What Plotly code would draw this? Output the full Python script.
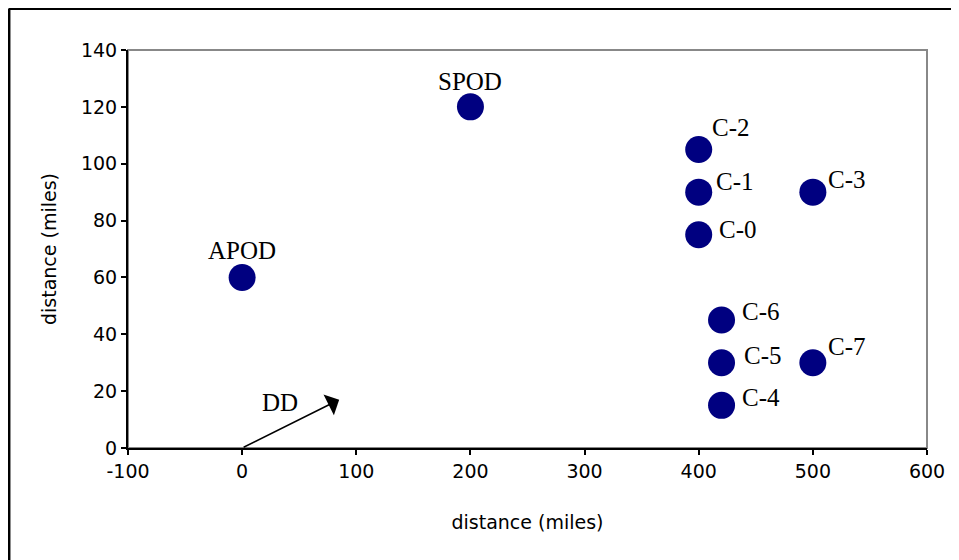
import plotly.graph_objects as go

# Posições (milhas)
nomes = ['APOD', 'SPOD', 'C-0', 'C-1', 'C-2', 'C-3', 'C-4', 'C-5', 'C-6', 'C-7']
x_milhas = [0, 200, 400, 400, 400, 500, 420, 420, 420, 500]
y_milhas = [60, 120, 75, 90, 105, 90, 15, 30, 45, 30]

# seta DD (origem -> ponta)
dd_origem = (0, 0)
dd_ponta = (85, 17)
dd_rotulo = (33, 16)

x_ticks = [-100, 0, 100, 200, 300, 400, 500, 600]
x_rotulos = ['-100', '0', '100', '200', '300', '400', '500', '600']
y_ticks = [0, 20, 40, 60, 80, 100, 120, 140]

# deslocamento dos rótulos (px): (xshift, yshift, xanchor)
desloc = {
    'APOD': (0, 27, 'center'), 'SPOD': (0, 25, 'center'),
    'C-0': (18, 5, 'left'), 'C-1': (15, 11, 'left'), 'C-2': (11, 22, 'left'),
    'C-3': (13, 13, 'left'), 'C-4': (18, 8, 'left'), 'C-5': (20, 7, 'left'),
    'C-6': (18, 9, 'left'), 'C-7': (13, 16, 'left'),
}

fig = go.Figure()

fig.add_trace(go.Scatter(
    x=x_milhas,
    y=y_milhas,
    mode='markers',
    marker=dict(size=27, color='#000080'),
    showlegend=False,
    cliponaxis=False
))

serif = dict(family='Liberation Serif, Times New Roman, serif', size=25, color='black')

anots = []
for n, x, y in zip(nomes, x_milhas, y_milhas):
    xs, ys, xa = desloc[n]
    anots.append(dict(x=x, y=y, text=n, showarrow=False, xanchor=xa, yanchor='middle',
                      xshift=xs, yshift=ys, font=serif))

# seta DD
anots.append(dict(x=dd_ponta[0], y=dd_ponta[1], ax=dd_origem[0], ay=dd_origem[1],
                  xref='x', yref='y', axref='x', ayref='y', text='', showarrow=True,
                  arrowhead=1, arrowsize=2.6, arrowwidth=1.5, arrowcolor='black'))
anots.append(dict(x=dd_rotulo[0], y=dd_rotulo[1], text='DD', showarrow=False,
                  xanchor='center', yanchor='middle', font=serif))

sans = dict(family='DejaVu Sans, Arial, sans-serif', size=19, color='black')

# o body da página tem margem de 8px, por isso a figura é 951x552
fig.update_layout(
    width=951, height=552,
    margin=dict(l=120, r=32, t=42, b=112),
    paper_bgcolor='white',
    plot_bgcolor='white',
    annotations=anots,
    xaxis=dict(
        range=[-100, 600], tickvals=x_ticks, ticktext=x_rotulos, ticks='outside',
        ticklen=5, tickwidth=2, tickcolor='black', showline=True, linecolor='black',
        linewidth=2, showgrid=False, zeroline=False, tickfont=sans,
        title=dict(text='distance (miles)', font=sans, standoff=35)
    ),
    yaxis=dict(
        range=[0, 140], tickvals=y_ticks, ticks='outside', ticklen=5, tickwidth=2,
        tickcolor='black', showline=True, linecolor='black', linewidth=2,
        showgrid=False, zeroline=False, tickfont=sans,
        title=dict(text='distance (miles)', font=sans, standoff=19)
    ),
    shapes=[
        # borda cinza da área do gráfico
        dict(type='rect', xref='paper', yref='paper', x0=0, x1=1, y0=0, y1=1,
             line=dict(color='#888888', width=2), layer='below'),
        # borda externa (só esquerda e topo visíveis)
        dict(type='line', xref='paper', yref='paper', x0=-0.149, x1=-0.149, y0=1.104, y1=-0.5,
             line=dict(color='black', width=3)),
        dict(type='line', xref='paper', yref='paper', x0=-0.149, x1=1.2, y0=1.104, y1=1.104,
             line=dict(color='black', width=3)),
    ]
)

fig.write_html("out.html")
